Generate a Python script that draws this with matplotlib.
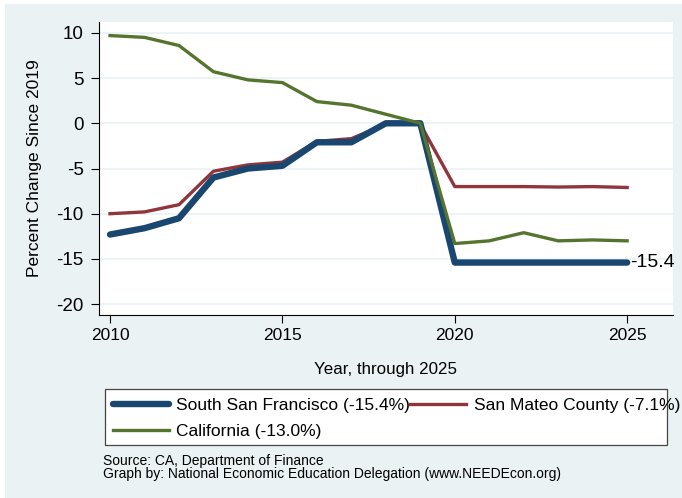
import matplotlib
matplotlib.use("Agg")
import matplotlib.pyplot as plt
from matplotlib.patches import Rectangle

years = list(range(2010, 2026))
ssf = [-12.3, -11.6, -10.5, -6.0, -5.0, -4.7, -2.1, -2.1, 0.0, 0.0,
       -15.4, -15.4, -15.4, -15.4, -15.4, -15.4]
san_mateo = [-10.0, -9.8, -9.0, -5.3, -4.6, -4.3, -2.0, -1.7, -0.1, -0.1,
             -7.0, -7.0, -7.0, -7.05, -7.0, -7.1]
california = [9.7, 9.5, 8.6, 5.7, 4.8, 4.5, 2.4, 2.0, 1.0, 0.0,
              -13.3, -13.0, -12.1, -13.0, -12.9, -13.0]
labels = ["South San Francisco (-15.4%)", "San Mateo County (-7.1%)",
          "California (-13.0%)"]

plt.rcParams['font.family'] = ['Liberation Sans', 'DejaVu Sans']
plt.rcParams['axes.unicode_minus'] = False
bg = '#eaf2f3'
W, H = 682, 498

fig = plt.figure(figsize=(6.82, 4.98), dpi=100, facecolor='white')
# light background panel with a thin white margin
fig.patches.append(Rectangle((5 / W, 0), 1, 1 - 4 / H, transform=fig.transFigure,
                             facecolor=bg, edgecolor='none', zorder=-10))

ax = fig.add_axes([99 / W, 1 - 315 / H, 574 / W, 293 / H])
ax.set_facecolor('white')

l1, = ax.plot(years, ssf, color='#1a476f', lw=4.6, solid_capstyle='round', zorder=3)
l2, = ax.plot(years, san_mateo, color='#90353b', lw=2.4, zorder=2)
l3, = ax.plot(years, california, color='#55752f', lw=2.4, zorder=4)
ax.text(2025.1, ssf[-1], '-15.4', fontsize=14, va='center', ha='left')

ax.set_xlim(2009.68, 2026.33)
ax.set_ylim(-21.2, 11.2)
ax.set_xticks([2010, 2015, 2020, 2025])
ax.set_yticks([10, 5, 0, -5, -10, -15, -20])
ax.tick_params(axis='y', labelsize=13.5, length=6, direction='out', pad=5)
ax.tick_params(axis='x', labelsize=12.5, length=6, direction='out', pad=3)
ax.grid(axis='y', color=bg, lw=1.2)
ax.set_axisbelow(True)
for s in ['top', 'right']:
    ax.spines[s].set_visible(False)
ax.set_ylabel('Percent Change Since 2019', fontsize=12.5, labelpad=10)
ax.set_xlabel('Year, through 2025', fontsize=12.2, labelpad=14)

# legend frame drawn separately, entries in row order
fig.patches.append(Rectangle((105 / W, 1 - 445 / H), 562 / W, 56 / H,
                             transform=fig.transFigure, facecolor='white',
                             edgecolor='#444444', lw=0.9, zorder=1))
leg = fig.legend([l1, l3, l2], [labels[0], labels[2], labels[1]], ncol=2,
                 loc='upper left', bbox_to_anchor=(113 / W, 1 - 398 / H),
                 fontsize=12.5, frameon=False, handlelength=3.2, borderpad=0,
                 borderaxespad=0, columnspacing=0.0, handletextpad=0.45,
                 labelspacing=0.62)
leg.set_zorder(2)

fig.text(103 / W, 1 - 461 / H, 'Source: CA, Department of Finance', fontsize=10,
         va='center')
fig.text(103 / W, 1 - 474 / H,
         'Graph by: National Economic Education Delegation (www.NEEDEcon.org)',
         fontsize=10, va='center')

fig.savefig('out.png', dpi=100, facecolor='white')
